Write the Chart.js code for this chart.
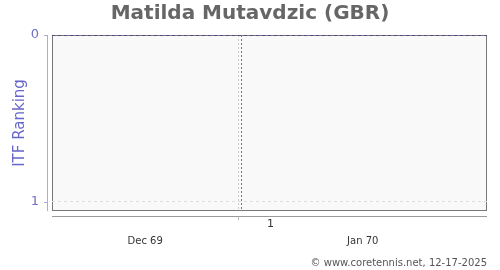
<!DOCTYPE html>
<html>
<head>
<meta charset="utf-8">
<script src="https://cdn.jsdelivr.net/npm/chart.js@4.4.1/dist/chart.umd.min.js"></script>
<style>
    html, body { margin: 0; padding: 0; background: #fff; }
</style>
</head>
<body>
<canvas id="ranking-chart" width="500" height="270"></canvas>
<script>
// chart data
const playerName = "Matilda Mutavdzic (GBR)"
const creditText = "\u00a9 www.coretennis.net, 12-17-2025"
const dayRange = [-15, 20]          // days around 1 Jan 1970
const dayTicks = [0]
const dayLabels = ["1"]
const monthTicks = [-7.5, 10]
const monthLabels = ["Dec 69", "Jan 70"]
const rankRange = [0, 1.054]
const rankTicks = [0, 1]
const rankLabels = ["0", "1"]
const markerDays = [0.25, 0.25]
const markerRanks = [0, 1.054]

// plot box background, border and offset axis lines
const plotBox = {
    id: 'plotBox',
    beforeDraw(chart) {
        const ctx = chart.ctx
        const a = chart.chartArea
        ctx.save()
        ctx.fillStyle = '#f9f9f9'
        ctx.fillRect(a.left, a.top, a.right - a.left, a.bottom - a.top)
        ctx.strokeStyle = '#777777'
        ctx.lineWidth = 1
        ctx.strokeRect(a.left + 0.5, a.top + 0.5, a.right - a.left - 1, a.bottom - a.top - 1)
        ctx.restore()
    },
    afterDraw(chart) {
        const ctx = chart.ctx
        const a = chart.chartArea
        const x = chart.scales.x
        const y = chart.scales.y
        ctx.save()
        ctx.lineWidth = 1
        // y axis line
        ctx.strokeStyle = '#aaaadd'
        ctx.beginPath()
        ctx.moveTo(a.left - 4.5, a.top)
        ctx.lineTo(a.left - 4.5, a.bottom)
        rankTicks.forEach(function(v) {
            const py = Math.round(y.getPixelForValue(v)) + 0.5
            ctx.moveTo(a.left - 8, py)
            ctx.lineTo(a.left - 4.5, py)
        })
        ctx.stroke()
        // x axis line
        ctx.strokeStyle = '#999999'
        ctx.beginPath()
        ctx.moveTo(a.left, a.bottom + 5.5)
        ctx.lineTo(a.right, a.bottom + 5.5)
        ctx.stroke()
        ctx.strokeStyle = '#bbbbbb'
        ctx.beginPath()
        dayTicks.forEach(function(v) {
            const px = Math.round(x.getPixelForValue(v)) + 0.5
            ctx.moveTo(px, a.bottom + 5.5)
            ctx.lineTo(px, a.bottom + 9)
        })
        ctx.stroke()
        ctx.restore()
    }
}

const rankingChart = new Chart(document.getElementById('ranking-chart'), {
    type: 'line',
    data: {
        datasets: [{
            data: markerDays.map(function(d, i) { return {x: d, y: markerRanks[i]} }),
            borderColor: '#6666ee',
            borderWidth: 1,
            borderDash: [2, 2],
            pointRadius: 0,
            fill: false
        }]
    },
    options: {
        responsive: false,
        animation: false,
        layout: { padding: 0 },
        plugins: {
            legend: { display: false },
            tooltip: { enabled: false },
            title: {
                display: true,
                text: playerName,
                color: '#666666',
                font: { family: 'DejaVu Sans', size: 20, weight: 'bold' },
                padding: { top: 2, bottom: 9 }
            },
            subtitle: {
                display: true,
                position: 'bottom',
                align: 'end',
                fullSize: false,
                text: creditText,
                color: '#555555',
                font: { family: 'DejaVu Sans', size: 10 },
                padding: { top: 4, bottom: 1 }
            }
        },
        scales: {
            x: {
                type: 'linear',
                position: 'bottom',
                min: dayRange[0],
                max: dayRange[1],
                afterBuildTicks: function(s) { s.ticks = dayTicks.map(function(v) { return {value: v} }) },
                afterFit: function(s) { s.height = 22 },
                ticks: {
                    callback: function(v, i) { return dayLabels[i] },
                    color: '#333333',
                    font: { family: 'DejaVu Sans', size: 11 },
                    padding: 7,
                    labelOffset: 32,
                    maxRotation: 0
                },
                grid: { color: '#cccccc', drawTicks: false },
                border: { display: false, dash: [2, 2] }
            },
            xm: {
                type: 'linear',
                position: 'bottom',
                min: dayRange[0],
                max: dayRange[1],
                afterBuildTicks: function(s) { s.ticks = monthTicks.map(function(v) { return {value: v} }) },
                afterFit: function(s) { s.height = 20 },
                ticks: {
                    callback: function(v, i) { return monthLabels[i] },
                    color: '#333333',
                    font: { family: 'DejaVu Sans', size: 10 },
                    padding: 2,
                    maxRotation: 0
                },
                grid: { display: false, drawTicks: false },
                border: { display: false }
            },
            y: {
                type: 'linear',
                reverse: true,
                min: rankRange[0],
                max: rankRange[1],
                afterBuildTicks: function(s) { s.ticks = rankTicks.map(function(v) { return {value: v} }) },
                afterFit: function(s) { s.width = 52 },
                ticks: {
                    callback: function(v, i) { return rankLabels[i] },
                    color: '#6f6fcc',
                    font: { family: 'DejaVu Sans', size: 13 },
                    padding: 13
                },
                grid: {
                    color: function(c) { return c.index === 0 ? '#4d4d80' : '#dddddd' },
                    drawTicks: false
                },
                border: { display: false, dash: [3, 3] },
                title: {
                    display: true,
                    text: 'ITF Ranking',
                    color: '#6666cc',
                    font: { family: 'DejaVu Sans', size: 15 },
                    padding: { top: 11, bottom: 0 }
                }
            },
            // empty right margin
            yr: {
                type: 'linear',
                position: 'right',
                min: rankRange[0],
                max: rankRange[1],
                afterBuildTicks: function(s) { s.ticks = [] },
                afterFit: function(s) { s.width = 13 },
                ticks: { display: false },
                grid: { display: false, drawTicks: false },
                border: { display: false }
            }
        }
    },
    plugins: [plotBox]
})
</script>
</body>
</html>
